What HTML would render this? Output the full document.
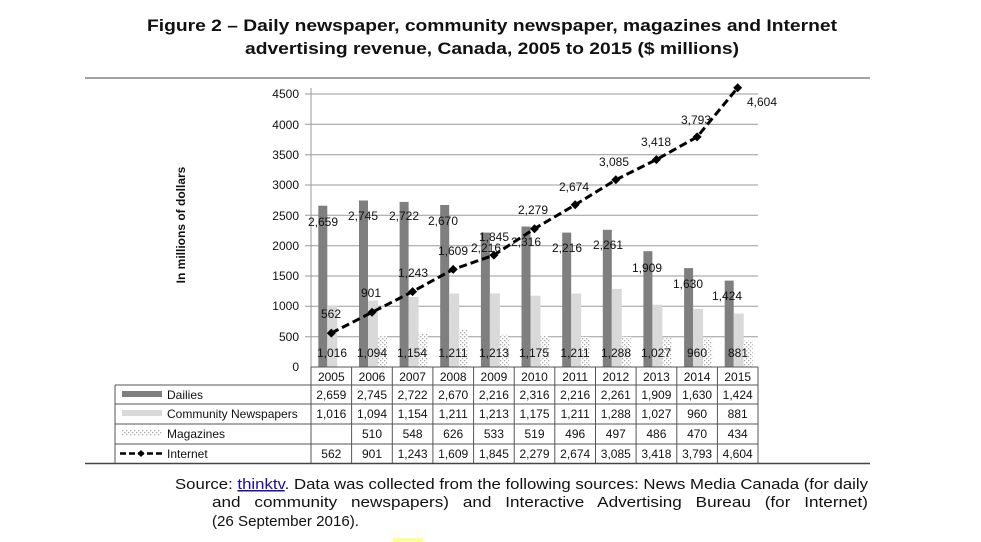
<!DOCTYPE html>
<html><head><meta charset="utf-8"><style>
html,body{margin:0;padding:0;background:#fff;}
svg{display:block;}
text{font-family:"Liberation Sans",Arial,sans-serif;fill:#111;}
</style></head><body>
<svg width="981" height="542" viewBox="0 0 981 542" xmlns="http://www.w3.org/2000/svg">
<defs>
<pattern id="dots" width="4" height="4" patternUnits="userSpaceOnUse">
<rect width="4" height="4" fill="#fff"/>
<rect x="0" y="0" width="1.3" height="1.3" fill="#aaa"/>
<rect x="2" y="2" width="1.3" height="1.3" fill="#aaa"/>
</pattern>
</defs>
<text x="492" y="31" font-size="17" font-weight="bold" text-anchor="middle" textLength="690" lengthAdjust="spacingAndGlyphs">Figure 2 – Daily newspaper, community newspaper, magazines and Internet</text>
<text x="492" y="54" font-size="17" font-weight="bold" text-anchor="middle" textLength="494" lengthAdjust="spacingAndGlyphs">advertising revenue, Canada, 2005 to 2015 ($ millions)</text>
<line x1="85" y1="78" x2="870" y2="78" stroke="#444" stroke-width="1"/>
<line x1="85" y1="463.5" x2="870" y2="463.5" stroke="#444" stroke-width="1.5"/>

<g stroke="#9a9a9a" stroke-width="1">
<line x1="305" y1="94" x2="758" y2="94"/>
<line x1="305" y1="124.3" x2="758" y2="124.3"/>
<line x1="305" y1="154.7" x2="758" y2="154.7"/>
<line x1="305" y1="185" x2="758" y2="185"/>
<line x1="305" y1="215.3" x2="758" y2="215.3"/>
<line x1="305" y1="245.7" x2="758" y2="245.7"/>
<line x1="305" y1="276" x2="758" y2="276"/>
<line x1="305" y1="306.3" x2="758" y2="306.3"/>
<line x1="305" y1="336.7" x2="758" y2="336.7"/>
<line x1="311" y1="88" x2="311" y2="367"/>
</g>
<g font-size="12" text-anchor="end">
<text x="299" y="98">4500</text>
<text x="299" y="129">4000</text>
<text x="299" y="159">3500</text>
<text x="299" y="189">3000</text>
<text x="299" y="220">2500</text>
<text x="299" y="250">2000</text>
<text x="299" y="280">1500</text>
<text x="299" y="310">1000</text>
<text x="299" y="341">500</text>
<text x="299" y="371">0</text>
</g>
<text transform="translate(185,225) rotate(-90)" font-size="12" font-weight="bold" text-anchor="middle">In millions of dollars</text>

<g fill="#7f7f7f">
<rect x="318.3" y="205.7" width="9" height="161.3"/>
<rect x="359" y="200.5" width="9" height="166.5"/>
<rect x="399.6" y="201.9" width="9" height="165.1"/>
<rect x="440.2" y="205" width="9" height="162"/>
<rect x="480.9" y="232.6" width="9" height="134.4"/>
<rect x="521.5" y="226.5" width="9" height="140.5"/>
<rect x="562.2" y="232.6" width="9" height="134.4"/>
<rect x="602.8" y="229.8" width="9" height="137.2"/>
<rect x="643.4" y="251.2" width="9" height="115.8"/>
<rect x="684.1" y="268.1" width="9" height="98.9"/>
<rect x="724.7" y="280.6" width="9" height="86.4"/>
</g>
<g fill="#d9d9d9">
<rect x="327.3" y="305.4" width="10" height="61.6"/>
<rect x="368" y="300.6" width="10" height="66.4"/>
<rect x="408.6" y="297" width="10" height="70"/>
<rect x="449.2" y="293.5" width="10" height="73.5"/>
<rect x="489.9" y="293.4" width="10" height="73.6"/>
<rect x="530.5" y="295.7" width="10" height="71.3"/>
<rect x="571.2" y="293.5" width="10" height="73.5"/>
<rect x="611.8" y="288.9" width="10" height="78.1"/>
<rect x="652.4" y="304.7" width="10" height="62.3"/>
<rect x="693.1" y="308.8" width="10" height="58.2"/>
<rect x="733.7" y="313.6" width="10" height="53.4"/>
</g>
<g fill="url(#dots)">
<rect x="378" y="336.1" width="9" height="30.9"/>
<rect x="418.6" y="333.8" width="9" height="33.2"/>
<rect x="459.2" y="329" width="9" height="38"/>
<rect x="499.9" y="334.7" width="9" height="32.3"/>
<rect x="540.5" y="335.5" width="9" height="31.5"/>
<rect x="581.2" y="336.9" width="9" height="30.1"/>
<rect x="621.8" y="336.8" width="9" height="30.2"/>
<rect x="662.4" y="337.5" width="9" height="29.5"/>
<rect x="703.1" y="338.5" width="9" height="28.5"/>
<rect x="743.7" y="340.7" width="9" height="26.3"/>
</g>

<polyline fill="none" stroke="#000" stroke-width="3" stroke-dasharray="8,4" points="331.3,333.1 372,312.3 412.6,291.6 453.2,269.4 493.9,255.1 534.5,228.7 575.2,204.8 615.8,179.8 656.4,159.6 697.1,136.9 737.7,87.7"/>
<g fill="#000">
<path d="M331.3,328.6l4.5,4.5-4.5,4.5-4.5-4.5z"/>
<path d="M372,307.8l4.5,4.5-4.5,4.5-4.5-4.5z"/>
<path d="M412.6,287.1l4.5,4.5-4.5,4.5-4.5-4.5z"/>
<path d="M453.2,264.9l4.5,4.5-4.5,4.5-4.5-4.5z"/>
<path d="M493.9,250.6l4.5,4.5-4.5,4.5-4.5-4.5z"/>
<path d="M534.5,224.2l4.5,4.5-4.5,4.5-4.5-4.5z"/>
<path d="M575.2,200.3l4.5,4.5-4.5,4.5-4.5-4.5z"/>
<path d="M615.8,175.3l4.5,4.5-4.5,4.5-4.5-4.5z"/>
<path d="M656.4,155.1l4.5,4.5-4.5,4.5-4.5-4.5z"/>
<path d="M697.1,132.4l4.5,4.5-4.5,4.5-4.5-4.5z"/>
<path d="M737.7,83.2l4.5,4.5-4.5,4.5-4.5-4.5z"/>
</g>

<g font-size="12" text-anchor="middle">
<text x="323" y="226">2,659</text>
<text x="363" y="220">2,745</text>
<text x="404" y="220">2,722</text>
<text x="443" y="225">2,670</text>
<text x="486" y="252">2,216</text>
<text x="526" y="246">2,316</text>
<text x="567" y="252">2,216</text>
<text x="608" y="249">2,261</text>
<text x="647" y="272">1,909</text>
<text x="688" y="288">1,630</text>
<text x="727" y="300">1,424</text>

<text x="331" y="318">562</text>
<text x="371" y="297">901</text>
<text x="413" y="277">1,243</text>
<text x="453" y="255">1,609</text>
<text x="494" y="241">1,845</text>
<text x="533" y="214">2,279</text>
<text x="574" y="191">2,674</text>
<text x="614" y="166">3,085</text>
<text x="656" y="146">3,418</text>
<text x="696" y="124">3,793</text>
<text x="762" y="106">4,604</text>

<text x="332" y="357">1,016</text>
<text x="372" y="357">1,094</text>
<text x="412" y="357">1,154</text>
<text x="453" y="357">1,211</text>
<text x="494" y="357">1,213</text>
<text x="534" y="357">1,175</text>
<text x="575" y="357">1,211</text>
<text x="616" y="357">1,288</text>
<text x="656" y="357">1,027</text>
<text x="697" y="357">960</text>
<text x="738" y="357">881</text>
</g>

<g stroke="#555" stroke-width="1" fill="none">
<line x1="311" y1="367" x2="758" y2="367"/>
<line x1="115" y1="385" x2="758" y2="385"/>
<line x1="115" y1="404" x2="758" y2="404"/>
<line x1="115" y1="424" x2="758" y2="424"/>
<line x1="115" y1="444" x2="758" y2="444"/>
<line x1="115" y1="385" x2="115" y2="463"/>
<line x1="311" y1="367" x2="311" y2="463"/>
<line x1="351.6" y1="367" x2="351.6" y2="463"/>
<line x1="392.3" y1="367" x2="392.3" y2="463"/>
<line x1="432.9" y1="367" x2="432.9" y2="463"/>
<line x1="473.6" y1="367" x2="473.6" y2="463"/>
<line x1="514.2" y1="367" x2="514.2" y2="463"/>
<line x1="554.8" y1="367" x2="554.8" y2="463"/>
<line x1="595.5" y1="367" x2="595.5" y2="463"/>
<line x1="636.1" y1="367" x2="636.1" y2="463"/>
<line x1="676.8" y1="367" x2="676.8" y2="463"/>
<line x1="717.4" y1="367" x2="717.4" y2="463"/>
<line x1="758" y1="367" x2="758" y2="463"/>
</g>
<rect x="122" y="391" width="40" height="6" fill="#7f7f7f"/>
<rect x="122" y="410" width="40" height="6" fill="#d9d9d9"/>
<rect x="122" y="430" width="40" height="6" fill="url(#dots)"/>
<line x1="120" y1="453.5" x2="163" y2="453.5" stroke="#000" stroke-width="2.5" stroke-dasharray="6,3"/>
<path d="M141,450l3.5,3.5-3.5,3.5-3.5-3.5z" fill="#000"/>
<g font-size="12">
<text x="167" y="399">Dailies</text>
<text x="167" y="418">Community Newspapers</text>
<text x="167" y="438">Magazines</text>
<text x="167" y="458">Internet</text>
</g>
<g font-size="12" text-anchor="middle">
<text x="331.3" y="381">2005</text><text x="372" y="381">2006</text><text x="412.6" y="381">2007</text><text x="453.2" y="381">2008</text><text x="493.9" y="381">2009</text><text x="534.5" y="381">2010</text><text x="575.2" y="381">2011</text><text x="615.8" y="381">2012</text><text x="656.4" y="381">2013</text><text x="697.1" y="381">2014</text><text x="737.7" y="381">2015</text>
<text x="331.3" y="399">2,659</text><text x="372" y="399">2,745</text><text x="412.6" y="399">2,722</text><text x="453.2" y="399">2,670</text><text x="493.9" y="399">2,216</text><text x="534.5" y="399">2,316</text><text x="575.2" y="399">2,216</text><text x="615.8" y="399">2,261</text><text x="656.4" y="399">1,909</text><text x="697.1" y="399">1,630</text><text x="737.7" y="399">1,424</text>
<text x="331.3" y="418">1,016</text><text x="372" y="418">1,094</text><text x="412.6" y="418">1,154</text><text x="453.2" y="418">1,211</text><text x="493.9" y="418">1,213</text><text x="534.5" y="418">1,175</text><text x="575.2" y="418">1,211</text><text x="615.8" y="418">1,288</text><text x="656.4" y="418">1,027</text><text x="697.1" y="418">960</text><text x="737.7" y="418">881</text>
<text x="372" y="438">510</text><text x="412.6" y="438">548</text><text x="453.2" y="438">626</text><text x="493.9" y="438">533</text><text x="534.5" y="438">519</text><text x="575.2" y="438">496</text><text x="615.8" y="438">497</text><text x="656.4" y="438">486</text><text x="697.1" y="438">470</text><text x="737.7" y="438">434</text>
<text x="331.3" y="458">562</text><text x="372" y="458">901</text><text x="412.6" y="458">1,243</text><text x="453.2" y="458">1,609</text><text x="493.9" y="458">1,845</text><text x="534.5" y="458">2,279</text><text x="575.2" y="458">2,674</text><text x="615.8" y="458">3,085</text><text x="656.4" y="458">3,418</text><text x="697.1" y="458">3,793</text><text x="737.7" y="458">4,604</text>
</g>

<g font-size="15">
<text x="175" y="489" textLength="693" lengthAdjust="spacingAndGlyphs">Source: <tspan fill="#1a0dab" text-decoration="underline">thinktv</tspan>. Data was collected from the following sources: News Media Canada (for daily</text>
<text x="212" y="507" textLength="656" lengthAdjust="spacingAndGlyphs" word-spacing="8">and community newspapers) and Interactive Advertising Bureau (for Internet)</text>
<text x="212" y="526" textLength="147" lengthAdjust="spacingAndGlyphs">(26 September 2016).</text>
</g>
<rect x="393" y="538" width="30" height="4" fill="#ffff99"/>
</svg>
</body></html>
